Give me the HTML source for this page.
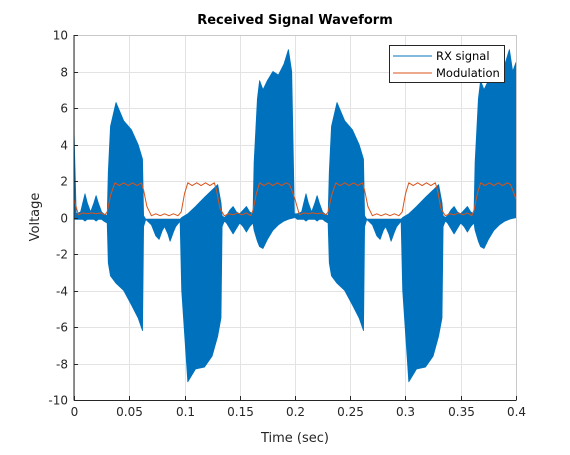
<!DOCTYPE html>
<html><head><meta charset="utf-8">
<style>
body{margin:0;background:#fff;}
svg text{font-family:"DejaVu Sans","Liberation Sans",sans-serif;}
</style></head>
<body>
<svg id="chart" width="570" height="450" xmlns="http://www.w3.org/2000/svg">
<rect width="570" height="450" fill="#fff"/>
</svg>
<script>
const envT = [0,.002,.006,.008,.010,.012,.015,.018,.020,.022,.025,.027,.030,.031,.033,.038,.045,.052,.058,.062,.063,.065,.070,.074,.077,.080,.082,.085,.087,.090,.092,.096,.0975,.103,.110,.118,.125,.130,.133,.134,.136,.138,.141,.144,.147,.150,.153,.156,.159,.162,.163,.166,.168,.171,.175,.180,.185,.190,.194,.197,.1995,
.2,.202,.206,.208,.210,.212,.215,.218,.220,.222,.225,.227,.230,.231,.233,.238,.245,.252,.258,.262,.263,.265,.270,.274,.277,.280,.282,.285,.287,.290,.292,.296,.2975,.303,.310,.318,.325,.330,.333,.334,.336,.338,.341,.344,.347,.350,.353,.356,.359,.362,.363,.366,.368,.371,.375,.380,.385,.390,.394,.397,.4];
const envUpper = [4.8,0.2,0.3,0.8,1.3,0.8,0.3,0.8,1.2,0.8,0.3,0.2,0.1,2.5,5.0,6.3,5.3,4.8,4.0,3.2,0.1,-0.1,-0.1,-0.1,-0.1,-0.1,-0.1,-0.1,-0.1,-0.1,-0.1,-0.1,0.0,0.2,0.6,1.1,1.5,1.8,0.8,0.1,0.0,0.1,0.4,0.6,0.3,0.2,0.4,0.6,0.3,0.2,3.0,6.5,7.5,7.0,7.5,8.0,7.8,8.4,9.2,8.0,0.2,
0.2,0.2,0.3,0.8,1.3,0.8,0.3,0.8,1.2,0.8,0.3,0.2,0.1,2.5,5.0,6.3,5.3,4.8,4.0,3.2,0.1,-0.1,-0.1,-0.1,-0.1,-0.1,-0.1,-0.1,-0.1,-0.1,-0.1,-0.1,0.0,0.2,0.6,1.1,1.5,1.8,0.8,0.1,0.0,0.1,0.4,0.6,0.3,0.2,0.4,0.6,0.3,0.2,3.0,6.5,7.5,7.0,7.5,8.0,7.8,8.4,9.2,8.0,8.5];
const envLower = [-0.1,-0.1,-0.1,-0.1,-0.2,-0.1,-0.1,-0.1,-0.2,-0.1,-0.1,-0.2,-0.3,-2.5,-3.2,-3.6,-4.0,-4.8,-5.5,-6.2,-0.5,-0.1,-0.4,-1.0,-1.2,-0.7,-0.5,-0.9,-1.3,-0.8,-0.5,-0.2,-4.0,-9.0,-8.3,-8.2,-7.6,-6.5,-5.5,-0.5,-0.2,-0.3,-0.6,-0.9,-0.6,-0.3,-0.5,-0.8,-0.5,-0.3,-0.7,-1.3,-1.6,-1.7,-1.2,-0.7,-0.4,-0.2,-0.1,-0.05,0,
0,-0.1,-0.1,-0.1,-0.2,-0.1,-0.1,-0.1,-0.2,-0.1,-0.1,-0.2,-0.3,-2.5,-3.2,-3.6,-4.0,-4.8,-5.5,-6.2,-0.5,-0.1,-0.4,-1.0,-1.2,-0.7,-0.5,-0.9,-1.3,-0.8,-0.5,-0.2,-4.0,-9.0,-8.3,-8.2,-7.6,-6.5,-5.5,-0.5,-0.2,-0.3,-0.6,-0.9,-0.6,-0.3,-0.5,-0.8,-0.5,-0.3,-0.7,-1.3,-1.6,-1.7,-1.2,-0.7,-0.4,-0.2,-0.1,-0.05,0];
const modT = [0,.004,.008,.012,.016,.020,.024,.028,.030,.033,.037,.041,.045,.049,.053,.057,.061,.063,.066,.070,.074,.078,.082,.086,.090,.094,.097,.100,.103,.107,.111,.115,.119,.123,.127,.129,.132,.136,.140,.144,.148,.152,.156,.160,.162,.165,.168,.172,.176,.180,.184,.188,.192,.195,.197,
.200,.204,.208,.212,.216,.220,.224,.228,.230,.233,.237,.241,.245,.249,.253,.257,.261,.263,.266,.270,.274,.278,.282,.286,.290,.294,.297,.300,.303,.307,.311,.315,.319,.323,.327,.329,.332,.336,.340,.344,.348,.352,.356,.360,.362,.365,.368,.372,.376,.380,.384,.388,.392,.395,.397,.4];
const modV = [1.0,0.15,0.25,0.2,0.25,0.2,0.25,0.15,0.3,1.2,1.9,1.75,1.9,1.75,1.9,1.75,1.9,1.5,0.6,0.1,0.2,0.1,0.2,0.1,0.2,0.1,0.3,1.3,1.9,1.75,1.9,1.75,1.9,1.75,1.9,1.5,0.5,0.1,0.2,0.15,0.25,0.15,0.25,0.1,0.4,1.3,1.9,1.75,1.9,1.75,1.9,1.75,1.9,1.8,1.5,
1.0,0.15,0.25,0.2,0.25,0.2,0.25,0.15,0.3,1.2,1.9,1.75,1.9,1.75,1.9,1.75,1.9,1.5,0.6,0.1,0.2,0.1,0.2,0.1,0.2,0.1,0.3,1.3,1.9,1.75,1.9,1.75,1.9,1.75,1.9,1.5,0.5,0.1,0.2,0.15,0.25,0.15,0.25,0.1,0.4,1.3,1.9,1.75,1.9,1.75,1.9,1.75,1.9,1.8,1.5,1.0];
const xTicks = [0,0.05,0.1,0.15,0.2,0.25,0.3,0.35,0.4];
const xTickLabels = ["0","0.05","0.1","0.15","0.2","0.25","0.3","0.35","0.4"];
const yTicks = [-10,-8,-6,-4,-2,0,2,4,6,8,10];

const L=74,R=516,T=35,B=400;
const sx=t=>L+(t-0)/(0.4)*(R-L);
const sy=v=>B-(v+10)/20*(B-T);
const svg=document.getElementById('chart');
const NS='http://www.w3.org/2000/svg';
function mk(tag,attrs,parent){const e=document.createElementNS(NS,tag);for(const k in attrs)e.setAttribute(k,attrs[k]);(parent||svg).appendChild(e);return e;}

const plotBg=mk('rect',{x:L,y:T,width:R-L,height:B-T,fill:'#fff'});



const grid=mk('g',{stroke:'#e3e3e3','stroke-width':1});


xTicks.forEach(t=>{const x=Math.round(sx(t))+0.5;mk('line',{x1:x,x2:x,y1:T,y2:B},grid);});
yTicks.forEach(v=>{const y=Math.round(sy(v))+0.5;mk('line',{x1:L,x2:R,y1:y,y2:y},grid);});

let d='M'+envT.map((t,i)=>sx(t).toFixed(1)+','+sy(envUpper[i]).toFixed(1)).join('L');
for(let i=envT.length-1;i>=0;i--) d+='L'+sx(envT[i]).toFixed(1)+','+sy(envLower[i]).toFixed(1);
d+='Z';
const rx=mk('path',{d:d,fill:'#0072BD',stroke:'#0072BD','stroke-width':0.8,'stroke-linejoin':'round'});



const md=mk('polyline',{points:modT.map((t,i)=>sx(t).toFixed(1)+','+sy(modV[i]).toFixed(1)).join(' '),fill:'none',stroke:'#D95319','stroke-width':1,'stroke-linejoin':'round'});



const axes=mk('g',{stroke:'#262626','stroke-width':1,fill:'none'});


mk('line',{x1:L,x2:L,y1:T,y2:B+0.5},axes);
mk('line',{x1:L,x2:R+0.5,y1:B+0.5,y2:B+0.5},axes);
mk('line',{x1:L,x2:R,y1:T+0.5,y2:T+0.5,stroke:'#c8c8c8'},axes);
mk('line',{x1:R+0.5,x2:R+0.5,y1:T,y2:B,stroke:'#c8c8c8'},axes);

const xt=mk('g',{'font-size':'12',fill:'#262626','text-anchor':'middle'});


xTicks.forEach((t,i)=>{const x=Math.round(sx(t))+0.5;mk('line',{x1:x,x2:x,y1:B,y2:B-4,stroke:'#262626'},xt);const tx=mk('text',{x:x,y:B+16},xt);tx.textContent=xTickLabels[i];});
const yt=mk('g',{'font-size':'12',fill:'#262626','text-anchor':'end'});


yTicks.forEach(v=>{const y=Math.round(sy(v))+0.5;mk('line',{x1:L,x2:L+4,y1:y,y2:y,stroke:'#262626'},yt);const tx=mk('text',{x:L-6,y:y+4},yt);tx.textContent=String(v);});

const title=mk('text',{x:295,y:24,'font-size':'13','font-weight':'bold','text-anchor':'middle',fill:'#000'});
title.textContent='Received Signal Waveform';


const xl=mk('text',{x:295,y:442,'font-size':'13','text-anchor':'middle',fill:'#262626'});
xl.textContent='Time (sec)';


const yl=mk('text',{x:0,y:0,'font-size':'13','text-anchor':'middle',fill:'#262626',transform:'translate(39,217) rotate(-90)'});
yl.textContent='Voltage';



const lg=mk('g',{});


mk('rect',{x:389.5,y:45.5,width:115,height:37,fill:'#fff',stroke:'#262626','stroke-width':1},lg);
const e1=mk('g',{},lg);


mk('line',{x1:393,x2:432,y1:56,y2:56,stroke:'#0072BD','stroke-width':1},e1);
const t1=mk('text',{x:436,y:60,'font-size':'11.5',fill:'#000'},e1);t1.textContent='RX signal';
const e2=mk('g',{},lg);


mk('line',{x1:393,x2:432,y1:73,y2:73,stroke:'#D95319','stroke-width':1},e2);
const t2=mk('text',{x:436,y:77,'font-size':'11.5',fill:'#000'},e2);t2.textContent='Modulation';
</script>
</body></html>
